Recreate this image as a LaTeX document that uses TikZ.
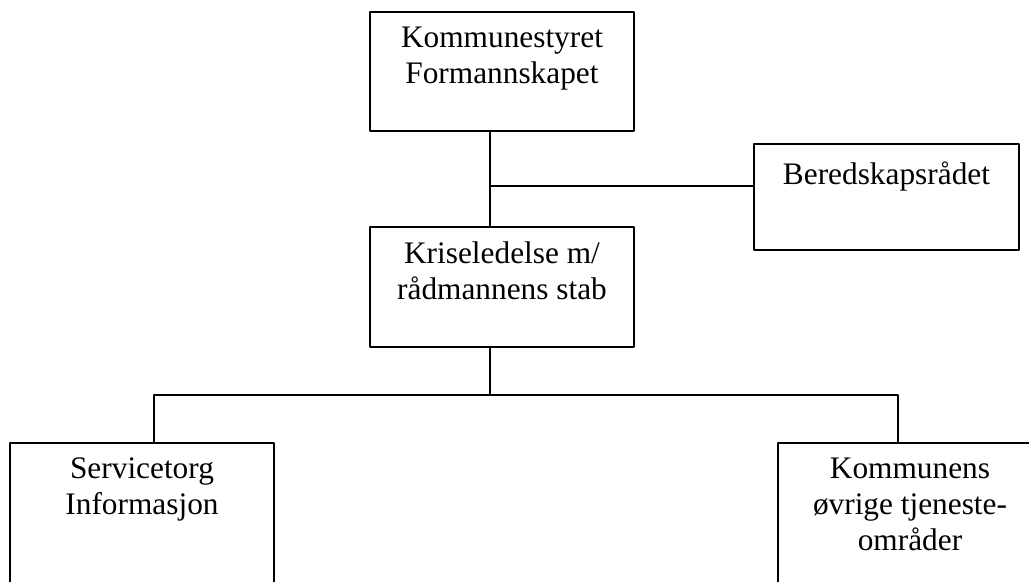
\documentclass[tikz,border=0pt]{standalone}
\usepackage{fontspec}
\setmainfont{Liberation Serif}
\begin{document}
\begin{tikzpicture}[x=0.75pt, y=-0.75pt, line width=1.1pt, line join=round,
	enhet/.style={draw, rectangle, inner sep=0pt, minimum width=198pt},
	tekst/.style={anchor=north, align=center, inner sep=0pt,
		font=\fontsize{23.5}{27}\selectfont, execute at begin node=\strut}]
	\useasboundingbox (0,0) rectangle (1029,582);
	\clip (0,0) rectangle (1029,582);
	% bokser
	\node[enhet, minimum height=89.25pt] (styret) at (502,71.5) {};
	\node[enhet, minimum height=79.5pt, minimum width=198.75pt] (bered) at (886.5,197) {};
	\node[enhet, minimum height=90pt] (krise) at (502,287) {};
	\node[enhet, minimum height=127.5pt] (service) at (142,528) {};
	\node[enhet, minimum height=127.5pt] (kommune) at (910,528) {};
	% tekster
	\node[tekst] (styret-t) at ([yshift=-11.1pt]styret.north) {Kommunestyret\\Formannskapet};
	\node[tekst] (bered-t) at ([yshift=-11.1pt]bered.north) {Beredskapsrådet};
	\node[tekst] (krise-t) at ([yshift=-11.1pt]krise.north) {Kriseledelse m/\\rådmannens stab};
	\node[tekst] (service-t) at ([yshift=-11.1pt]service.north) {Servicetorg\\Informasjon};
	\node[tekst] (kommune-t) at ([yshift=-11.1pt]kommune.north) {Kommunens\\øvrige tjeneste-\\områder};
	% linjer
	\path
	(490,186) coordinate (S)
	(490,395) coordinate (F)
	(154,395) coordinate (L)
	(898,395) coordinate (R)
	;
	\draw (styret.south -| S) -- (krise.north -| S) (S) -- (S -| bered.west);
	\draw (krise.south -| F) -- (F) (service.north -| L) -- (L) -- (R) -- (kommune.north -| R);
\end{tikzpicture}
\end{document}
